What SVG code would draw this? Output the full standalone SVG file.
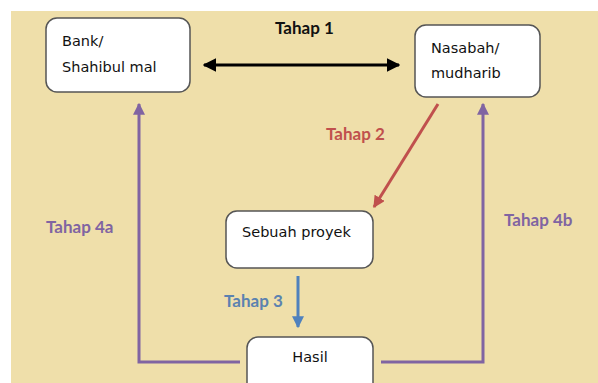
<svg xmlns="http://www.w3.org/2000/svg" width="598" height="383" viewBox="0 0 598 383">
<style>
.box{fill:#fff;stroke:#555;stroke-width:1.5}
.t{font-family:"DejaVu Sans",Verdana,sans-serif;font-size:14.5px;fill:#111}
.lbl{font-family:Lato,"Open Sans",sans-serif;font-weight:bold;font-size:17px}
.ln{fill:none;stroke-width:3}
</style>
<defs>
<marker id="ak" viewBox="0 0 10 10" refX="9" refY="5" markerWidth="4.5" markerHeight="4.5" orient="auto-start-reverse" markerUnits="strokeWidth"><path d="M0,0L10,5L0,10z" fill="#000"/></marker>
<marker id="ar" viewBox="0 0 10 10" refX="9" refY="5" markerWidth="4" markerHeight="4" orient="auto" markerUnits="strokeWidth"><path d="M0,0L10,5L0,10z" fill="#c0504d"/></marker>
<marker id="ab" viewBox="0 0 10 10" refX="9" refY="5" markerWidth="4" markerHeight="4" orient="auto" markerUnits="strokeWidth"><path d="M0,0L10,5L0,10z" fill="#4f81bd"/></marker>
<marker id="ap" viewBox="0 0 10 10" refX="9" refY="5" markerWidth="4" markerHeight="4" orient="auto" markerUnits="strokeWidth"><path d="M0,0L10,5L0,10z" fill="#8064a2"/></marker>
</defs>
<rect x="0" y="0" width="598" height="383" fill="#fff"/>
<rect x="11" y="11" width="587" height="372" fill="#efdfaa"/>
<g id="connectors">
<line class="ln" x1="204" y1="65" x2="399" y2="65" stroke="#000" marker-start="url(#ak)" marker-end="url(#ak)"/>
<line class="ln" x1="438" y1="104" x2="374" y2="207" stroke="#c0504d" marker-end="url(#ar)"/>
<line class="ln" x1="298" y1="276" x2="298" y2="327" stroke="#4f81bd" marker-end="url(#ab)"/>
<polyline class="ln" points="240,362 139,362 139,104" stroke="#8064a2" marker-end="url(#ap)"/>
<polyline class="ln" points="381,362 483,362 483,104" stroke="#8064a2" marker-end="url(#ap)"/>
<text class="lbl" x="275" y="34" fill="#111">Tahap 1</text>
<text class="lbl" x="326" y="140" fill="#c0504d">Tahap 2</text>
<text class="lbl" x="224" y="307" fill="#5b82b0">Tahap 3</text>
<text class="lbl" x="46" y="233" fill="#8064a2">Tahap 4a</text>
<text class="lbl" x="504" y="226" fill="#8064a2">Tahap 4b</text>
</g>
<g id="bank"><rect class="box" x="46" y="18" width="144" height="74" rx="11"/><text class="t" x="62" y="46">Bank/</text><text class="t" x="62" y="72">Shahibul mal</text></g>
<g id="nasabah"><rect class="box" x="415" y="25" width="125" height="72" rx="11"/><text class="t" x="431" y="53">Nasabah/</text><text class="t" x="431" y="78">mudharib</text></g>
<g id="proyek"><rect class="box" x="226" y="211" width="147" height="57" rx="11"/><text class="t" x="242" y="237">Sebuah proyek</text></g>
<g id="hasil"><rect class="box" x="247" y="337" width="126" height="60" rx="11"/><text class="t" x="310" y="362" text-anchor="middle">Hasil</text></g>
</svg>
